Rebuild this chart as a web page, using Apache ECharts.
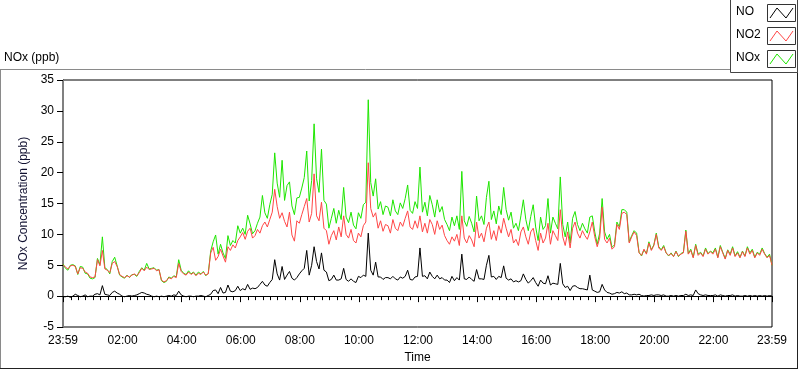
<!DOCTYPE html>
<html>
<head>
<meta charset="utf-8">
<script src="https://cdn.jsdelivr.net/npm/echarts@6/dist/echarts.min.js"></script>
<style>
html,body{margin:0;padding:0;background:#fff;}
#chart{width:800px;height:369px;}
</style>
</head>
<body>
<div id="chart"></div>
<script>
// Time step between samples (minutes since 23:59 start)
const stepMinutes = 5;

// NO2 (ppb), one row per hour, 12 samples per hour, final sample at 23:59
const no2Vals = [
  5.1, 4.7, 4.4, 4.9, 5.0, 4.8, 3.6, 4.6, 4.5, 3.9, 3.7, 3.1,
  3.0, 3.1, 5.9, 4.9, 7.4, 4.4, 4.2, 3.8, 5.3, 5.6, 4.8, 3.5,
  3.2, 3.0, 3.3, 3.1, 3.4, 3.6, 3.3, 3.8, 4.5, 4.1, 4.7, 4.3,
  4.4, 4.5, 4.1, 4.3, 2.6, 2.3, 2.5, 3.0, 2.8, 3.2, 3.0, 5.3,
  4.0, 3.6, 3.4, 3.9, 3.5, 3.8, 3.3, 3.7, 3.5, 3.9, 3.4, 3.6,
  7.0, 7.9, 5.8, 6.4, 7.6, 6.5, 5.5, 8.0, 7.4, 8.3, 7.8, 9.0,
  9.6, 10.3, 9.2, 10.5, 11.0, 9.4, 9.8, 10.8, 10.2, 11.4, 12.0, 11.2,
  12.4, 13.6, 17.3, 14.5, 12.6, 13.5, 12.1, 11.2, 13.6, 9.9, 8.9, 12.2,
  11.8, 13.2, 14.5, 15.8, 12.0, 13.4, 19.8, 13.0, 12.2, 15.2, 11.0, 10.6,
  8.4, 9.8, 10.6, 9.1, 11.2, 9.6, 13.0, 10.0, 9.4, 10.8, 9.0, 8.6,
  10.2, 9.6, 11.4, 12.0, 21.6, 14.2, 12.8, 13.5, 11.0, 12.2, 10.5, 11.6,
  11.4, 10.2, 12.4, 11.0, 10.6, 12.0, 11.3, 12.6, 13.8, 11.2, 10.8, 12.2,
  11.0, 13.0, 10.4, 11.8, 10.2, 12.4, 11.6, 10.0, 12.2, 10.8, 11.5, 9.8,
  9.0, 8.4, 9.6, 8.9, 10.0, 8.2, 13.0, 9.4, 8.6, 9.8, 9.1, 8.0,
  12.0, 9.4, 10.2, 8.8, 11.0, 12.0, 9.2, 10.6, 9.0, 11.4, 10.2, 12.6,
  11.0, 9.6, 10.8, 8.6, 9.2, 8.2, 10.4, 11.2, 9.6, 8.4, 10.4, 11.0,
  9.0, 7.4, 10.2, 8.6, 9.4, 11.8, 8.4, 10.6, 9.8, 9.0, 14.0, 9.6,
  8.2, 10.4, 7.8, 11.0, 12.0, 10.2, 9.4, 10.6, 9.8, 9.2, 10.4, 12.0,
  9.6, 8.0, 9.4, 14.4, 9.2, 8.6, 9.4, 7.6, 8.0, 11.6, 10.8, 13.4,
  13.6, 13.2, 8.6, 9.6, 10.4, 9.8, 7.0, 6.6, 7.6, 6.8, 8.6, 7.4,
  8.2, 10.0, 7.8, 7.4, 8.0, 7.0, 6.6, 6.9, 6.4, 7.2, 6.5, 6.8,
  7.0, 10.5, 6.8, 7.4, 6.2, 8.2, 6.6, 7.0, 6.4, 7.6, 6.8, 7.2,
  6.8, 7.6, 6.2, 8.0, 7.0, 6.0, 7.4, 6.6, 7.8, 6.4, 7.0, 6.2,
  7.2, 6.4, 7.8, 6.8, 7.4, 6.2, 7.0, 6.6, 7.6, 6.8, 6.2, 6.6,
  5.0
];

// NOx (ppb)
const noxVals = [
  5.2, 4.5, 4.2, 5.0, 5.1, 4.9, 3.5, 4.8, 4.7, 3.7, 3.6, 2.9,
  2.8, 3.0, 6.1, 5.1, 9.6, 4.6, 4.3, 3.6, 5.6, 6.3, 4.9, 3.4,
  3.1, 2.9, 3.4, 3.0, 3.5, 3.5, 3.2, 4.0, 4.6, 4.2, 5.3, 4.4,
  4.5, 4.6, 4.2, 4.3, 2.5, 2.2, 2.4, 3.1, 2.9, 3.3, 3.1, 5.9,
  4.2, 3.7, 3.5, 4.1, 3.6, 3.9, 3.4, 3.9, 3.6, 4.0, 3.3, 3.7,
  7.3, 8.8, 9.9, 6.8, 8.4, 7.0, 6.1, 9.8, 8.2, 9.0, 8.6, 11.4,
  10.2, 11.0, 10.0, 13.1, 11.7, 10.1, 10.6, 11.8, 12.8, 16.3, 13.5, 12.6,
  14.8, 16.5, 23.2, 18.3, 16.0, 22.0, 15.5, 17.9, 18.5, 14.6, 13.2, 15.9,
  16.0, 17.5, 19.2, 23.5, 15.4, 18.7, 27.9, 19.0, 16.8, 23.8, 15.5, 14.9,
  11.0, 12.6, 14.2, 11.8, 13.9, 12.4, 17.6, 12.8, 11.9, 13.6, 11.5, 10.9,
  13.5, 12.6, 14.8, 15.2, 31.8, 18.4, 16.2, 19.0, 14.1, 15.3, 13.2, 14.6,
  14.4, 13.0, 15.6, 13.8, 13.2, 15.1, 14.2, 15.8, 18.0, 13.9, 13.4, 15.3,
  14.2, 20.9, 13.6, 15.2, 13.0, 16.3, 14.8, 12.8, 15.6, 13.6, 14.5, 12.4,
  11.6, 10.6, 12.8, 11.4, 13.0, 10.8, 20.2, 12.2, 11.3, 12.9, 11.8, 10.4,
  16.2, 12.2, 13.0, 11.6, 16.0, 18.6, 12.4, 13.8, 11.7, 14.6, 13.2, 17.6,
  14.0, 12.3, 13.6, 11.0, 11.8, 10.6, 13.0, 15.6, 12.4, 10.6, 12.9, 14.8,
  11.2, 9.0, 12.8, 10.8, 11.4, 15.8, 10.2, 12.8, 11.8, 10.9, 19.3, 11.6,
  9.6, 12.0, 8.6, 12.6, 13.7, 11.6, 10.6, 11.8, 10.9, 10.2, 12.8, 13.0,
  10.4, 8.4, 10.2, 15.8, 10.4, 9.2, 10.0, 7.9, 8.3, 12.0, 11.2, 14.0,
  14.0, 13.6, 8.8, 9.8, 10.6, 10.2, 7.1, 6.5, 7.5, 6.9, 8.8, 7.5,
  8.3, 10.2, 8.0, 7.5, 8.2, 7.0, 6.5, 7.0, 6.4, 7.3, 6.4, 6.9,
  7.1, 10.7, 6.9, 7.6, 6.3, 8.4, 6.8, 7.1, 6.5, 7.8, 6.9, 7.3,
  7.0, 7.8, 6.3, 8.2, 7.1, 6.1, 7.5, 6.8, 8.0, 6.5, 7.2, 6.3,
  7.3, 6.5, 8.0, 7.0, 7.6, 6.3, 7.1, 6.8, 7.8, 6.9, 6.3, 6.8,
  5.0
];

// NO (ppb)
const noVals = [
  -0.1, -0.1, 0.0, -0.2, 0.0, 0.3, 0.1, -0.1, 0.0, 0.2, -0.1, 0.0,
  0.0, 0.3, 0.4, 0.2, 1.7, 0.3, 0.2, 0.1, 0.6, 0.8, 0.5, 0.3,
  0.0, -0.1, 0.0, 0.1, 0.0, 0.1, 0.2, 0.4, 0.6, 0.5, 0.3, 0.2,
  0.0, -0.1, 0.0, -0.1, 0.0, -0.1, 0.0, 0.1, 0.0, 0.2, 0.1, 0.8,
  0.2, 0.0, -0.1, 0.0, 0.0, -0.1, 0.0, 0.0, 0.1, 0.0, -0.1, 0.1,
  0.3, 0.9, 1.0, 0.4, 1.4, 0.5, 0.6, 1.8, 0.8, 0.7, 0.9, 1.6,
  0.9, 1.2, 1.0, 1.9, 1.1, 1.3, 1.2, 1.4, 1.9, 2.4, 1.8, 1.6,
  2.2, 2.7, 5.9, 3.6, 2.6, 4.8, 2.7, 3.4, 4.0, 2.9, 2.6, 3.0,
  3.6, 4.1, 4.5, 7.4, 3.4, 5.0, 8.0, 5.6, 4.4, 7.0, 4.2, 3.9,
  2.5, 2.7, 3.4, 2.6, 2.6, 2.8, 4.5, 2.7, 2.4, 2.8, 2.4, 2.2,
  3.2, 3.0, 3.4, 3.2, 10.2, 4.2, 3.4, 5.5, 3.1, 3.1, 2.7, 3.0,
  3.0, 2.8, 3.2, 2.8, 2.6, 3.1, 2.9, 3.2, 4.2, 2.7, 2.6, 3.1,
  3.2, 7.8, 3.2, 3.3, 2.8, 3.9, 3.2, 2.8, 3.4, 2.8, 3.0, 2.6,
  2.6, 2.2, 3.2, 2.5, 3.0, 2.6, 6.8, 2.8, 2.7, 3.1, 2.7, 2.4,
  4.3, 2.8, 2.8, 2.7, 5.0, 6.6, 3.1, 3.2, 2.7, 3.2, 3.0, 4.9,
  2.9, 2.6, 2.8, 2.3, 2.5, 2.3, 2.5, 3.6, 2.7, 2.1, 2.5, 3.0,
  2.2, 1.6, 2.6, 2.1, 2.0, 3.3, 1.8, 2.1, 2.0, 1.9, 5.3, 2.0,
  1.4, 1.6, 0.9, 1.6, 1.7, 1.4, 1.2, 1.2, 1.1, 1.0, 3.4, 1.0,
  0.8, 0.6, 0.7, 1.9, 1.0, 0.6, 0.5, 0.3, 0.4, 0.6, 0.5, 0.7,
  0.4, 0.5, 0.2, 0.2, 0.3, 0.2, 0.3, 0.1, 0.0, 0.1, 0.1, 0.2,
  0.1, 0.2, 0.2, 0.1, 0.2, 0.0, 0.0, 0.1, 0.0, 0.1, 0.0, 0.1,
  0.1, 0.3, 0.1, 0.2, 0.1, 1.0, 0.4, 0.2, 0.1, 0.2, 0.1, 0.1,
  0.1, 0.2, 0.0, 0.2, 0.1, 0.0, 0.1, 0.1, 0.2, 0.0, 0.1, 0.0,
  0.0, 0.1, 0.0, 0.1, 0.0, 0.1, 0.0, 0.1, 0.0, 0.1, 0.0, 0.1,
  0.0
];

// Tick labels along the time axis (minutes after 23:59)
const xTickLabels = ['23:59','02:00','04:00','06:00','08:00','10:00','12:00','14:00','16:00','18:00','20:00','22:00','23:59'];
const xTickMinutes = [0,121,241,361,481,601,721,841,961,1081,1201,1321,1440];
const xMinorMinutes = [];
for (let m = 16; m < 1440; m += 15) {
  if (xTickMinutes.indexOf(m) < 0) xMinorMinutes.push(m);
}
const yTicks = { min: -5, max: 35, interval: 5 };

const seriesNames = ['NO', 'NO2', 'NOx'];
const seriesColors = { NO: '#000000', NO2: '#ff4646', NOx: '#1ee600' };

const FONT = '"Liberation Sans", Arial, sans-serif';

function toPairs(arr) {
  return arr.map((v, i) => [i * stepMinutes, v]);
}
function labelFor(v) {
  const i = xTickMinutes.indexOf(Math.round(v));
  return i >= 0 ? xTickLabels[i] : '';
}

const chart = echarts.init(document.getElementById('chart'), null, { renderer: 'canvas' });

// legend entries (drawn as boxes with zigzag icons like the original)
const legendGraphics = [];
seriesNames.forEach((name, i) => {
  const cy = [13, 36, 59][i];
  legendGraphics.push({
    type: 'text', left: 736, top: cy - 7,
    style: { text: name, font: '12px ' + FONT, fill: '#000' }, silent: true
  });
  legendGraphics.push({
    type: 'rect', shape: { x: 767.5, y: cy - 8.5, width: 28, height: 17 },
    style: { fill: '#fff', stroke: '#333', lineWidth: 1 }, silent: true
  });
  legendGraphics.push({
    type: 'polyline',
    shape: { points: [[770, cy + 5], [777, cy - 5], [786, cy + 5], [793, cy - 5]] },
    style: { fill: null, stroke: seriesColors[name], lineWidth: 1 }, silent: true
  });
});

const option = {
  animation: false,
  backgroundColor: '#ffffff',
  textStyle: { fontFamily: FONT },
  grid: { left: 63, right: 28, top: 80, bottom: 39, show: true, borderColor: '#000', borderWidth: 1, containLabel: false },
  xAxis: [
    {
      type: 'value', min: 0, max: 1440, position: 'bottom',
      axisLine: { show: true, lineStyle: { color: '#000', width: 1 } },
      axisTick: { show: true, customValues: xTickMinutes, length: 6, inside: false, lineStyle: { color: '#000' } },
      axisLabel: { customValues: xTickMinutes, formatter: labelFor, margin: 8, color: '#000', fontSize: 12, fontFamily: FONT, showMinLabel: true, showMaxLabel: true, hideOverlap: false },
      splitLine: { show: false },
      name: 'Time', nameLocation: 'middle', nameGap: 25,
      nameTextStyle: { color: '#000', fontSize: 12, fontFamily: FONT }
    },
    {
      type: 'value', min: 0, max: 1440, position: 'bottom',
      axisLine: { show: true, lineStyle: { color: '#000', width: 1 } },
      axisTick: { show: true, customValues: xMinorMinutes, length: 4, lineStyle: { color: '#000' } },
      axisLabel: { show: false },
      splitLine: { show: false }
    }
  ],
  yAxis: [
    {
      type: 'value', min: yTicks.min, max: yTicks.max, interval: yTicks.interval,
      axisLine: { show: true, lineStyle: { color: '#000', width: 1 } },
      axisTick: { show: true, length: 6, lineStyle: { color: '#000' } },
      axisLabel: { margin: 9, color: '#000', fontSize: 12, fontFamily: FONT },
      splitLine: { show: false },
      name: 'NOx Concentration (ppb)', nameLocation: 'middle', nameGap: 27,
      nameTextStyle: { color: '#101030', fontSize: 12, fontFamily: FONT }
    },
    {
      type: 'value', min: yTicks.min, max: yTicks.max, interval: yTicks.interval, position: 'right',
      axisLine: { show: true, lineStyle: { color: '#808080', width: 1 } },
      axisTick: { show: false }, axisLabel: { show: false }, splitLine: { show: false }
    }
  ],
  series: [
    { name: 'NOx', type: 'line', data: toPairs(noxVals), showSymbol: false, symbol: 'none',
      lineStyle: { color: seriesColors.NOx, width: 1 }, itemStyle: { color: seriesColors.NOx }, z: 2 },
    { name: 'NO2', type: 'line', data: toPairs(no2Vals), showSymbol: false, symbol: 'none',
      lineStyle: { color: seriesColors.NO2, width: 1 }, itemStyle: { color: seriesColors.NO2 }, z: 3 },
    { name: 'NO', type: 'line', data: toPairs(noVals), showSymbol: false, symbol: 'none',
      lineStyle: { color: seriesColors.NO, width: 1 }, itemStyle: { color: seriesColors.NO }, z: 4 }
  ],
  graphic: [
    // outer frame
    { type: 'line', shape: { x1: 0, y1: 69.5, x2: 731, y2: 69.5 }, style: { stroke: '#8a8a8a', lineWidth: 1 }, silent: true },
    { type: 'line', shape: { x1: 0.5, y1: 69, x2: 0.5, y2: 368 }, style: { stroke: '#8a8a8a', lineWidth: 1 }, silent: true },
    { type: 'line', shape: { x1: 0, y1: 368.5, x2: 798, y2: 368.5 }, style: { stroke: '#222', lineWidth: 1 }, silent: true },
    { type: 'line', shape: { x1: 797.5, y1: 72, x2: 797.5, y2: 369 }, style: { stroke: '#222', lineWidth: 1 }, silent: true },
    // legend box
    { type: 'rect', shape: { x: 730.5, y: -1, width: 67, height: 73.5 }, style: { fill: '#fff', stroke: '#444', lineWidth: 1 }, silent: true },
    // plot title
    { type: 'text', left: 4, top: 52, style: { text: 'NOx (ppb)', font: '12px ' + FONT, fill: '#000' }, silent: true }
  ].concat(legendGraphics)
};

chart.setOption(option);
</script>
</body>
</html>
